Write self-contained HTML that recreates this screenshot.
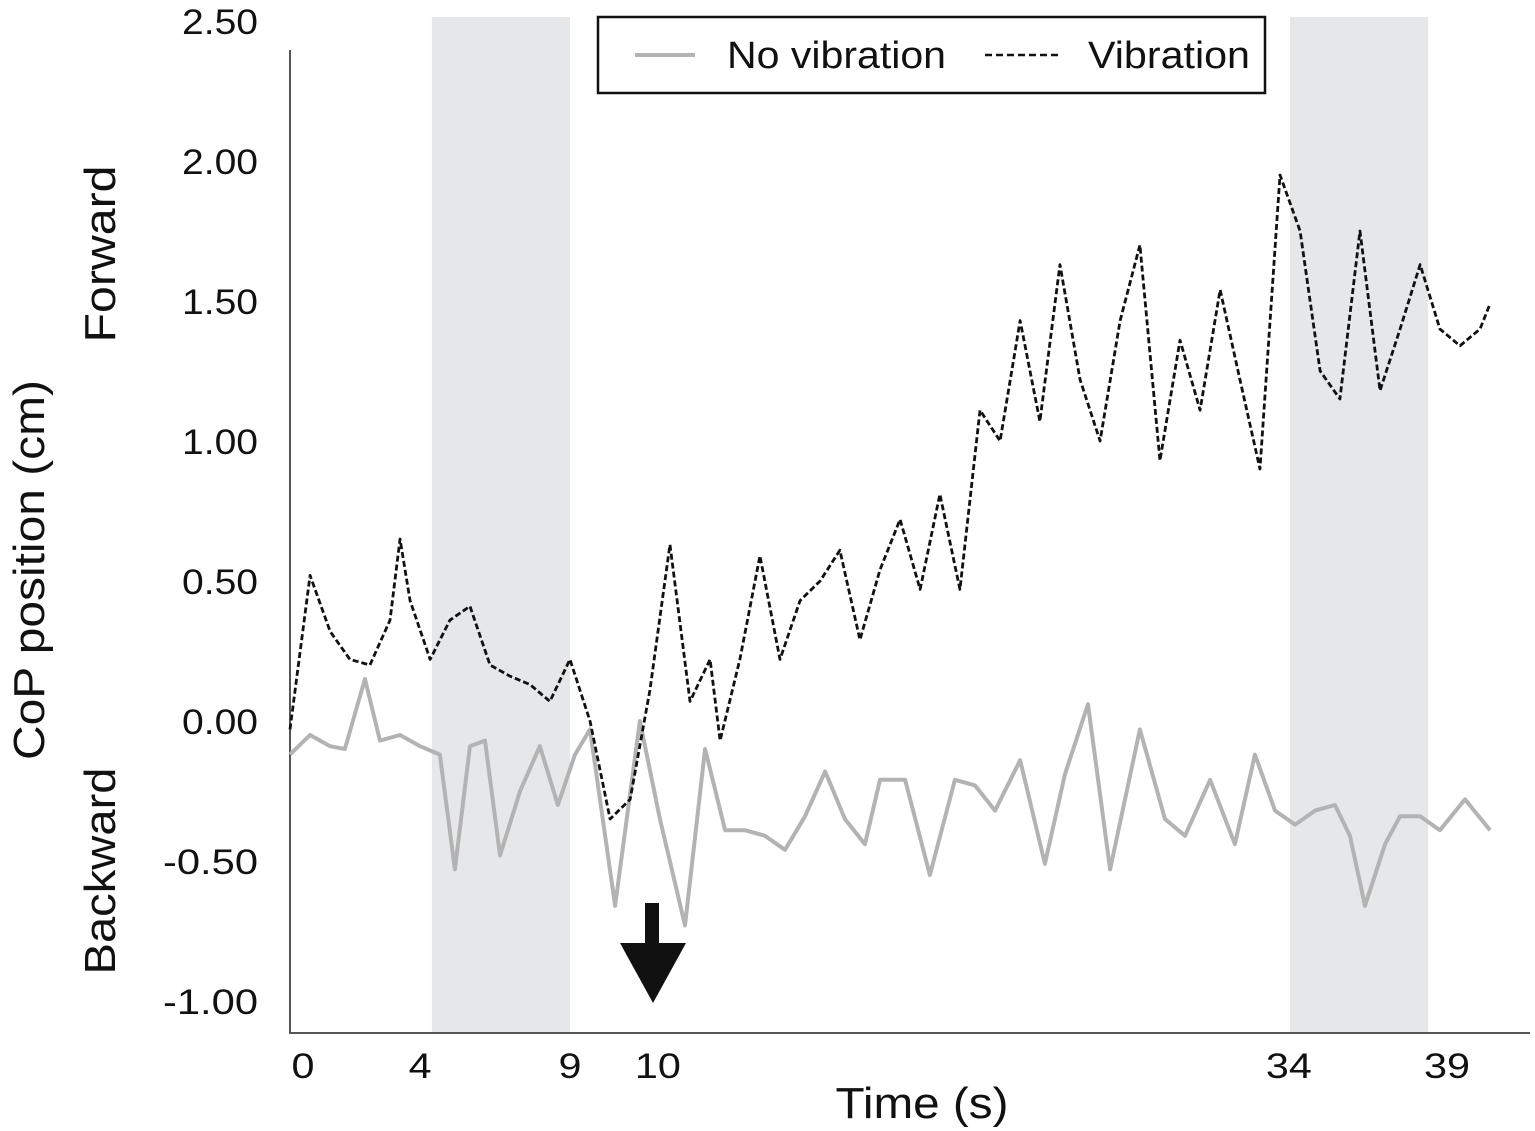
<!DOCTYPE html>
<html><head><meta charset="utf-8"><style>
body{margin:0;background:#fff}
svg{display:block;font-family:"Liberation Sans",Arial,sans-serif}
</style></head><body>
<svg id="chart" width="1535" height="1131" viewBox="0 0 1535 1131">
<g id="bands"></g>
<line x1="290" y1="50" x2="290" y2="1033" stroke="#555" stroke-width="2"/>
<line x1="289" y1="1033" x2="1530" y2="1033" stroke="#555" stroke-width="2"/>
<g id="yticks"></g>
<g id="xticks"></g>
<g id="series"></g>
<text x="0" y="0" transform="translate(44,570) rotate(-90)" text-anchor="middle" font-size="44" textLength="380" lengthAdjust="spacingAndGlyphs" fill="#111">CoP position (cm)</text>
<text x="0" y="0" transform="translate(115,254) rotate(-90)" text-anchor="middle" font-size="44" textLength="177" lengthAdjust="spacingAndGlyphs" fill="#111">Forward</text>
<text x="0" y="0" transform="translate(115,871) rotate(-90)" text-anchor="middle" font-size="44" textLength="207" lengthAdjust="spacingAndGlyphs" fill="#111">Backward</text>
<text x="922" y="1118" text-anchor="middle" font-size="44" textLength="173" lengthAdjust="spacingAndGlyphs" fill="#111">Time (s)</text>
<g>
<rect x="645" y="903" width="14" height="44" fill="#111"/>
<polygon points="620,943 686,943 653,1003" fill="#111"/>
</g>
<g>
<rect x="598" y="17" width="667" height="76" fill="#fff" stroke="#111" stroke-width="2.5"/>
<line x1="635" y1="55" x2="695" y2="55" stroke="#b3b3b3" stroke-width="4"/>
<text x="727" y="68" font-size="38" textLength="219" lengthAdjust="spacingAndGlyphs" fill="#111">No vibration</text>
<line x1="985" y1="55" x2="1060" y2="55" stroke="#111" stroke-width="2.5" stroke-dasharray="7,4"/>
<text x="1088" y="68" font-size="38" textLength="162" lengthAdjust="spacingAndGlyphs" fill="#111">Vibration</text>
</g>
</svg>
<script>
const yTicks=[2.5,2.0,1.5,1.0,0.5,0,-0.5,-1.0];
const yTickLabels=["2.50","2.00","1.50","1.00","0.50","0.00","-0.50","-1.00"];
const xTickAt=[0.44,4.41,9.49,12.47,33.86,39.22];
const xTickLabels=["0","4","9","10","34","39"];
const bandStart=[4.81,33.9];
const bandEnd=[9.49,38.58];
const vibT=[0,0.68,1.36,2.03,2.71,3.39,3.73,4.07,4.75,5.42,6.1,6.78,7.46,8.14,8.81,9.49,10.17,10.85,11.53,12.2,12.88,13.56,14.24,14.58,15.25,15.93,16.61,17.29,17.97,18.64,19.32,20,20.68,21.36,22.03,22.71,23.39,24.07,24.75,25.42,26.1,26.78,27.46,28.14,28.81,29.49,30.17,30.85,31.53,32.2,32.88,33.56,34.24,34.92,35.59,36.27,36.95,37.63,38.31,38.98,39.66,40.34,40.68];
const vibV=[-0.03,0.52,0.32,0.22,0.2,0.36,0.65,0.43,0.22,0.36,0.41,0.2,0.16,0.13,0.07,0.22,0,-0.35,-0.28,0.11,0.63,0.07,0.22,-0.07,0.22,0.59,0.22,0.43,0.5,0.61,0.29,0.54,0.72,0.47,0.81,0.47,1.11,1.0,1.43,1.07,1.63,1.22,1.0,1.43,1.7,0.93,1.36,1.11,1.54,1.22,0.9,1.95,1.75,1.25,1.15,1.75,1.18,1.4,1.63,1.4,1.34,1.4,1.49];
const noVibT=[0,0.68,1.36,1.86,2.54,3.05,3.73,4.41,5.08,5.59,6.1,6.61,7.12,7.8,8.47,9.08,9.66,10.17,11.02,11.86,12.54,13.39,14.07,14.75,15.42,16.1,16.78,17.46,18.14,18.81,19.49,20,20.85,21.69,22.54,23.22,23.9,24.75,25.59,26.27,27.05,27.8,28.81,29.66,30.34,31.19,32.03,32.71,33.39,34.07,34.75,35.42,35.93,36.44,37.12,37.63,38.31,38.98,39.83,40.68];
const noVibV=[-0.12,-0.05,-0.09,-0.1,0.15,-0.07,-0.05,-0.09,-0.12,-0.53,-0.09,-0.07,-0.48,-0.25,-0.09,-0.3,-0.12,-0.03,-0.66,0,-0.35,-0.73,-0.1,-0.39,-0.39,-0.41,-0.46,-0.34,-0.18,-0.35,-0.44,-0.21,-0.21,-0.55,-0.21,-0.23,-0.32,-0.14,-0.51,-0.19,0.06,-0.53,-0.03,-0.35,-0.41,-0.21,-0.44,-0.12,-0.32,-0.37,-0.32,-0.3,-0.41,-0.66,-0.44,-0.34,-0.34,-0.39,-0.28,-0.39];
const NS="http://www.w3.org/2000/svg";
function xs(t){return 290+29.5*t;}
function ys(v){return 721-280*v;}
const bands=document.getElementById('bands');
bandStart.forEach((s,i)=>{
  const r=document.createElementNS(NS,'rect');
  r.setAttribute('x',xs(s));r.setAttribute('y',17);
  r.setAttribute('width',xs(bandEnd[i])-xs(s));r.setAttribute('height',1015);
  r.setAttribute('fill','#e6e7e9');
  
  
  bands.appendChild(r);
});
const yt=document.getElementById('yticks');
yTicks.forEach((v,i)=>{
  const t=document.createElementNS(NS,'text');
  t.setAttribute('x',258);t.setAttribute('y',ys(v)+13);
  t.setAttribute('text-anchor','end');t.setAttribute('font-size','35');t.setAttribute('fill','#111');
  t.setAttribute('textLength',yTickLabels[i].length*19);t.setAttribute('lengthAdjust','spacingAndGlyphs');
  t.textContent=yTickLabels[i];
  
  
  yt.appendChild(t);
});
const xt=document.getElementById('xticks');
xTickAt.forEach((v,i)=>{
  const t=document.createElementNS(NS,'text');
  t.setAttribute('x',xs(v));t.setAttribute('y',1078);
  t.setAttribute('text-anchor','middle');t.setAttribute('font-size','35');t.setAttribute('fill','#111');
  t.setAttribute('textLength',xTickLabels[i].length*23);t.setAttribute('lengthAdjust','spacingAndGlyphs');
  t.textContent=xTickLabels[i];
  
  
  xt.appendChild(t);
});
const sg=document.getElementById('series');
function line(T,V,stroke,w,dash,name){
  const p=document.createElementNS(NS,'polyline');
  p.setAttribute('points',T.map((t,i)=>xs(t)+','+ys(V[i])).join(' '));
  p.setAttribute('fill','none');p.setAttribute('stroke',stroke);p.setAttribute('stroke-width',w);
  p.setAttribute('stroke-linejoin','round');
  if(dash)p.setAttribute('stroke-dasharray',dash);
  
  
  sg.appendChild(p);
}
line(noVibT,noVibV,'#b3b3b3',4,null,'no-vibration-line');
line(vibT,vibV,'#111',2.8,'6,3','vibration-line');
</script>
</body></html>
